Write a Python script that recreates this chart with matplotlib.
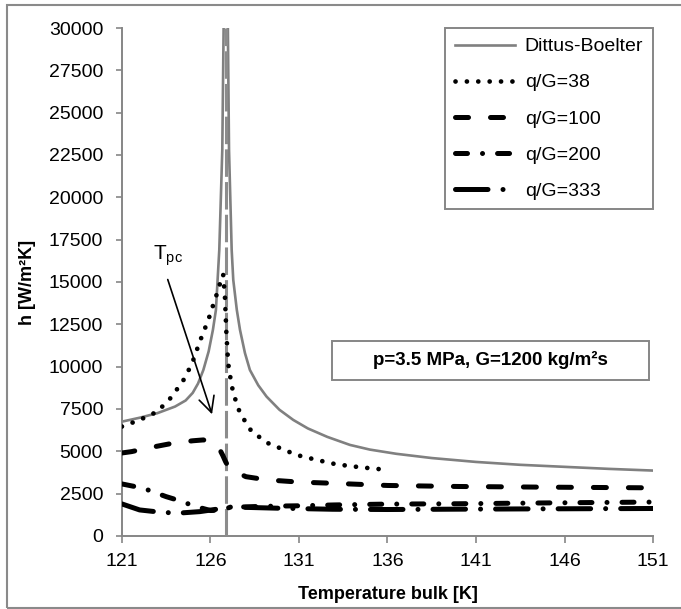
import matplotlib
matplotlib.use("Agg")
from matplotlib import pyplot as plt
from matplotlib.patches import Rectangle

plt.rcParams['font.family'] = ['Liberation Sans', 'DejaVu Sans']
plt.rcParams['mathtext.fontset'] = 'custom'
plt.rcParams['mathtext.rm'] = 'Liberation Sans'

# data
t_db = [121, 122, 123, 124, 124.6, 125.0, 125.3, 125.6, 125.9, 126.14, 126.31, 126.5, 126.67, 126.75,
        126.98, 127.05, 127.2, 127.29, 127.49, 127.67, 127.95, 128.23, 128.7, 129.17, 129.9, 130.68,
        131.5, 132.6, 133.88, 135, 136.5, 138.5, 141, 143.5, 146, 148.5, 151]
h_db = [6750, 6980, 7250, 7640, 8000, 8450, 9000, 9800, 10900, 12170, 13350, 16890, 22800, 30500,
        30500, 22800, 16890, 15120, 13350, 12170, 10800, 9800, 8900, 8230, 7450, 6850,
        6350, 5850, 5375, 5100, 4850, 4600, 4370, 4200, 4080, 3960, 3860]

t_38 = [121, 122, 123, 123.8, 124.56, 125.0, 125.4, 125.88, 126.25, 126.44, 126.63, 126.72, 126.82, 126.9,
        127.0, 127.15, 127.29, 127.67, 128.33, 129.27, 130.87, 132, 133.1, 134.5, 136]
h_38 = [6460, 6850, 7340, 8200, 9330, 10300, 11480, 12760, 13940, 14530, 15250, 15450, 14100, 12000,
        10200, 9200, 8430, 7250, 6160, 5470, 4780, 4490, 4230, 4050, 3900]

t_100 = [121, 121.55, 122.5, 123.9, 125, 125.6, 126.1, 126.44, 126.7, 126.85, 127.0, 127.3, 128, 129.2,
         131, 132.9, 136, 140, 145, 151]
h_100 = [4900, 4980, 5200, 5480, 5620, 5670, 5550, 5280, 4750, 4400, 4100, 3850, 3500, 3310,
         3180, 3110, 2980, 2920, 2880, 2840]

t_200 = [121, 122.2, 123.5, 124.1, 125.2, 126, 126.5, 126.9, 127.5, 129, 131, 133, 136, 140, 145, 151]
h_200 = [3070, 2820, 2320, 2130, 1730, 1500, 1520, 1650, 1700, 1750, 1780, 1830, 1880, 1900, 1950, 2000]

t_333 = [121, 122, 123, 124.1, 125.4, 126.5, 126.9, 127.5, 129.7, 132.9, 136, 140, 145, 151]
h_333 = [1890, 1535, 1420, 1340, 1435, 1600, 1700, 1700, 1640, 1575, 1560, 1580, 1600, 1620]

t_pc = 126.86
x_ticks = [121, 126, 131, 136, 141, 146, 151]
y_ticks = list(range(0, 30001, 2500))

fig = plt.figure(figsize=(6.81, 6.09), dpi=100)
ax = fig.add_axes([0.179, 0.12, 0.78, 0.834])

grey = '#868686'

# Tpc line
ax.plot([t_pc, t_pc], [0, 30000], color='#8c8c8c', lw=2.2, linestyle=(0, (9, 1.7)), zorder=3)

ax.plot(t_db, h_db, color='#808080', lw=1.9, label='Dittus-Boelter', zorder=2)
ax.plot(t_38, h_38, color='black', lw=3.4, linestyle=(0, (0.01, 2.4)), dash_capstyle='round',
        label='q/G=38', zorder=4)
ax.plot(t_100, h_100, color='black', lw=3.6, linestyle=(0, (2.6, 4.4)), dash_capstyle='round',
        label='q/G=100', zorder=4)
ax.plot(t_200, h_200, color='black', lw=3.6, linestyle=(0, (2.4, 3.0, 0.01, 3.0)), dash_capstyle='round',
        label='q/G=200', zorder=4)
ax.plot(t_333, h_333, color='black', lw=3.6, linestyle=(0, (6.5, 3.0, 0.01, 3.0)), dash_capstyle='round',
        label='q/G=333', zorder=4)

ax.set_xlim(121, 151)
ax.set_ylim(0, 30000)
ax.set_xticks(x_ticks)
ax.set_yticks(y_ticks)
ax.tick_params(axis='both', labelsize=14, color=grey, width=1.2, direction='out')
ax.tick_params(axis='y', length=4.5, pad=9)
ax.tick_params(axis='x', length=5, pad=7)

for s in ['top', 'right']:
    ax.spines[s].set_visible(False)
for s in ['left', 'bottom']:
    ax.spines[s].set_color(grey)
    ax.spines[s].set_linewidth(1.4)

ax.set_xlabel('Temperature bulk [K]', fontsize=13, fontweight='bold', labelpad=12)
ax.set_ylabel('h [W/m²K]', fontsize=13, fontweight='bold', labelpad=9)

leg = ax.legend(loc='upper right', bbox_to_anchor=(1.0, 1.0), borderaxespad=0, fontsize=14,
                handlelength=3.1, handletextpad=0.5, labelspacing=0.95, fancybox=False,
                framealpha=1, borderpad=0.5)
leg.get_frame().set_edgecolor(grey)
leg.get_frame().set_linewidth(1.4)

# parameter box
ax.add_patch(Rectangle((0.395, 0.307), 0.597, 0.077, transform=ax.transAxes, fill=False,
                       edgecolor=grey, lw=1.4, zorder=5))
ax.text(0.6935, 0.3455, 'p=3.5 MPa, G=1200 kg/m²s', transform=ax.transAxes, ha='center', va='center',
        fontsize=13.5, fontweight='bold', zorder=6)

# Tpc annotation
ax.annotate('', xy=(126.14, 7030), xytext=(123.54, 15300),
            arrowprops=dict(arrowstyle='->', lw=1.2, color='black', mutation_scale=28), zorder=6)
ax.text(122.75, 15800, r'T$_{\mathrm{pc}}$', fontsize=15, ha='left', va='bottom')

# outer frame
fig.add_artist(Rectangle((7 / 681, 1 / 609), 1.2, 1 - 6 / 609, transform=fig.transFigure, fill=False,
                         edgecolor='#8a8a8a', lw=1.5))

plt.savefig('out.png', dpi=100)
